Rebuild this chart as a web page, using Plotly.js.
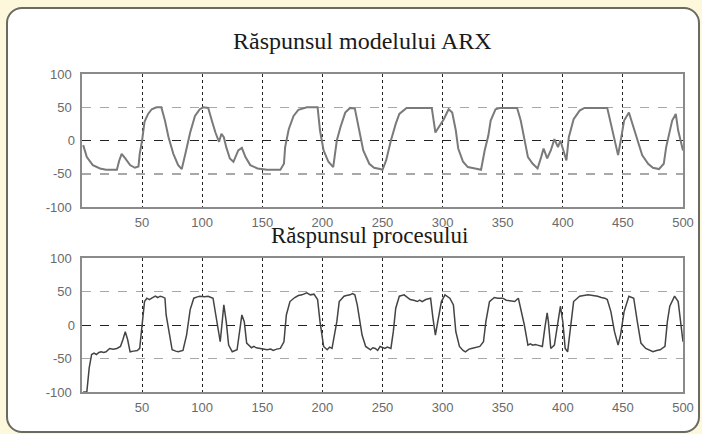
<!DOCTYPE html>
<html>
<head>
<meta charset="utf-8">
<script src="https://cdn.plot.ly/plotly-3.0.1.min.js"></script>
<style>
  html, body { margin:0; padding:0; background:#fdf8dc; }
  #panel { position:absolute; left:6px; top:7px; width:690px; height:422px;
           background:#ffffff; border:2px solid #6a6a60; border-radius:16px; }
  #chart { position:absolute; left:0; top:0; width:702px; height:434px; }
</style>
</head>
<body>
<div id="panel"></div>
<div id="chart"></div>
<script>
// ---- data ----
const titleTop = "Răspunsul modelului ARX";
const titleBottom = "Răspunsul procesului";

const xTickVals = [50, 100, 150, 200, 250, 300, 350, 400, 450, 500];
const xTickText = ["50", "100", "150", "200", "250", "300", "350", "400", "450", "500"];
const yTickVals = [-100, -50, 50, 100];
const yTickText = ["-100", "-50", "50", "100"];
const yZeroVals = [0];
const yZeroText = ["0"];

// ARX model response (sample index, value)
const arxX = [1,4,9,15,20,29,31,33,36,40,44,47,48,50,52,55,58,62,66,69,72,76,80,83,86,90,94,98,101,105,108,111,114,116,118,120,123,126,130,133,136,140,146,154,165,168,169,172,176,180,187,196,198,201,205,209,212,215,219,223,227,230,234,239,243,248,250,253,257,261,264,270,291,294,297,301,305,308,311,313,317,321,327,332,335,338,340,344,348,362,365,368,371,375,379,382,384,387,390,393,396,398,401,403,405,409,414,418,437,440,443,446,448,451,455,458,462,466,471,475,480,484,486,489,491,494,496,500];
const arxY = [-7,-25,-37,-42,-44,-44,-30,-20,-27,-37,-41,-39,-20,0,28,40,47,50,50,30,5,-20,-37,-43,-20,12,37,47,50,49,30,12,-2,10,5,-10,-27,-32,-15,-11,-25,-37,-42,-44,-44,-35,-10,17,37,46,50,50,15,-15,-32,-40,0,20,42,49,48,20,-15,-35,-41,-43,-44,-30,0,25,40,49,49,12,20,32,47,42,15,-12,-32,-40,-42,-44,-15,7,30,47,49,49,30,0,-25,-35,-42,-25,-12,-27,-15,2,-10,0,-20,-30,5,32,45,49,49,25,-2,-22,-2,30,42,25,0,-22,-35,-41,-43,-35,-10,17,30,40,15,-15];

// Process response (sample index, value)
const procX = [1,4,6,8,10,12,14,16,18,20,23,26,29,32,34,36,38,40,43,46,48,50,52,54,56,58,61,63,65,67,69,70,73,75,78,80,84,87,90,93,96,98,102,105,109,112,114,115,118,120,122,125,129,131,133,135,137,141,143,145,148,150,154,157,159,162,165,168,170,173,177,180,183,187,190,193,196,198,201,204,206,208,212,214,218,220,223,225,227,229,233,236,238,240,242,244,246,248,252,254,257,259,261,264,268,270,273,276,279,281,283,286,290,292,294,296,299,302,304,306,309,311,314,317,319,322,324,328,331,334,336,339,343,346,350,353,356,360,363,365,368,371,373,375,377,379,383,385,387,388,390,393,396,398,400,402,404,407,409,414,417,421,425,429,432,435,437,440,443,446,448,451,455,457,459,462,465,469,472,475,478,481,485,487,489,493,496,499,500];
const procY = [-100,-100,-64,-44,-42,-44,-41,-40,-41,-40,-35,-36,-35,-32,-22,-10,-22,-40,-39,-38,-35,0,35,40,38,40,43,41,43,42,40,15,-20,-37,-39,-40,-38,-15,23,40,42,43,42,43,40,5,-20,-25,30,5,-30,-40,-37,-10,15,5,-27,-34,-32,-34,-35,-35,-37,-36,-38,-36,-35,-25,15,35,41,44,45,48,45,46,38,5,-32,-37,-33,-35,5,35,43,44,45,47,45,30,-15,-32,-35,-37,-34,-35,-38,-32,-35,-33,-35,-10,25,43,45,42,38,37,35,37,35,38,40,10,-15,5,35,45,42,40,30,-10,-32,-38,-40,-36,-35,-33,-32,-25,5,35,41,40,40,37,36,35,40,25,0,-30,-28,-30,-29,-30,-32,-5,18,5,-35,-30,5,28,5,-35,-40,5,35,43,44,45,44,43,41,40,38,20,-10,-30,-15,20,43,42,40,5,-27,-35,-37,-40,-38,-37,-32,5,28,43,35,-5,-25];

// ---- layout helpers (pixel -> paper) ----
const W = 702, H = 434;
const px = v => v / W;
const py = v => 1 - v / H;

const fontTick = {family: "Liberation Sans, Arial, sans-serif", size: 13, color: "#6a6a6a"};

function xAxis(anchor) {
  return {
    domain: [px(82), px(683)], range: [0, 500], anchor: anchor,
    tickmode: "array", tickvals: xTickVals, ticktext: xTickText,
    showgrid: true, gridcolor: "#222", griddash: "dot", gridwidth: 1,
    showline: true, mirror: true, linecolor: "#8a8a8a", linewidth: 1.6,
    zeroline: false, ticks: "", tickfont: fontTick, ticklabelstandoff: 3
  };
}
function yAxis(anchor, top, bottom) {
  return {
    domain: [py(bottom), py(top)], range: [-100, 100], anchor: anchor,
    tickmode: "array", tickvals: yTickVals, ticktext: yTickText,
    showgrid: true, gridcolor: "#a8a8a8", griddash: "dash", gridwidth: 1.5,
    showline: true, mirror: true, linecolor: "#8a8a8a", linewidth: 1.6,
    zeroline: false, ticks: "", tickfont: fontTick, ticklabelstandoff: 6
  };
}
function yZeroAxis(over, anchor) {
  return {
    overlaying: over, anchor: anchor, side: "left", range: [-100, 100],
    tickmode: "array", tickvals: yZeroVals, ticktext: yZeroText,
    showgrid: true, gridcolor: "#222", griddash: "dash", gridwidth: 1,
    showline: false, zeroline: false, ticks: "", tickfont: fontTick,
    ticklabelstandoff: 6
  };
}

const traces = [
  // empty helper traces that only register the overlay axes carrying the 0 gridline
  {x: [], y: [], xaxis: "x", yaxis: "y3", mode: "lines", hoverinfo: "skip", showlegend: false},
  {x: [], y: [], xaxis: "x2", yaxis: "y4", mode: "lines", hoverinfo: "skip", showlegend: false},
  {x: arxX, y: arxY, xaxis: "x", yaxis: "y", mode: "lines",
   line: {color: "#7a7a7a", width: 2}, hoverinfo: "skip"},
  {x: procX, y: procY, xaxis: "x2", yaxis: "y2", mode: "lines",
   line: {color: "#444444", width: 1.5}, hoverinfo: "skip"}
];

const layout = {
  width: W, height: H,
  margin: {l: 0, r: 0, t: 0, b: 0},
  paper_bgcolor: "rgba(0,0,0,0)", plot_bgcolor: "#ffffff",
  showlegend: false,
  xaxis: xAxis("y"), yaxis: yAxis("x", 74, 207),
  xaxis2: xAxis("y2"), yaxis2: yAxis("x2", 258, 392),
  yaxis3: yZeroAxis("y", "x"),
  yaxis4: yZeroAxis("y2", "x2"),
  annotations: [
    {text: titleTop, xref: "paper", yref: "paper", x: px(362), y: py(41),
     xanchor: "center", yanchor: "middle", showarrow: false,
     font: {family: "Liberation Serif, Times New Roman, serif", size: 24, color: "#1a1a1a"}},
    {text: titleBottom, xref: "paper", yref: "paper", x: px(369), y: py(235),
     xanchor: "center", yanchor: "middle", showarrow: false,
     font: {family: "Liberation Serif, Times New Roman, serif", size: 23, color: "#1a1a1a"}}
  ]
};

Plotly.newPlot("chart", traces, layout, {staticPlot: true, displayModeBar: false});
</script>
</body>
</html>
